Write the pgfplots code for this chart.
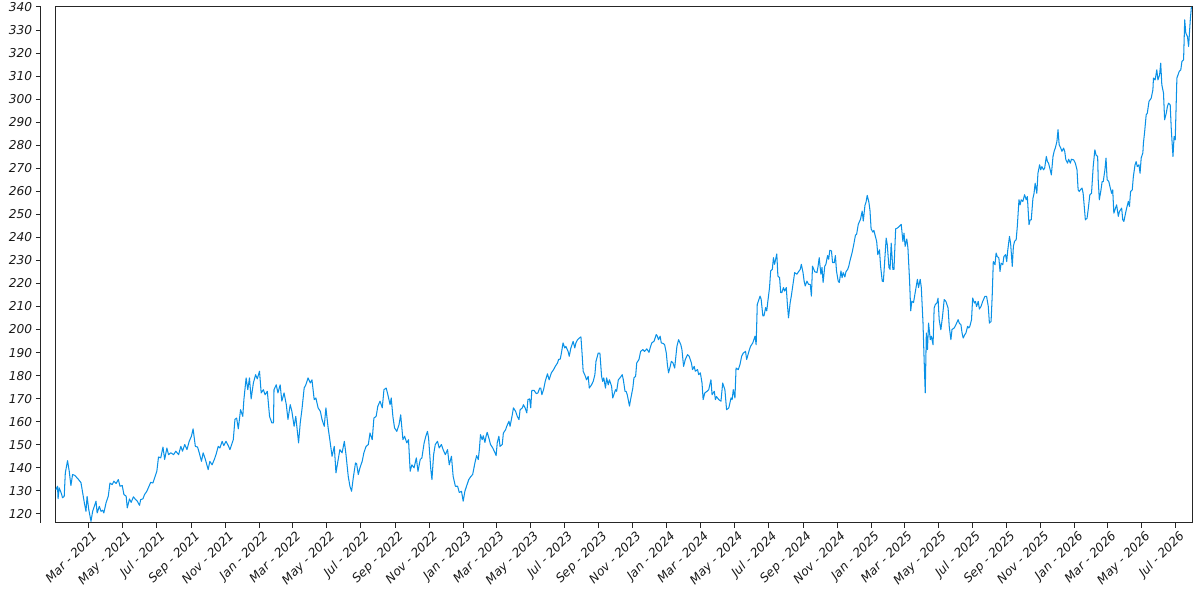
\documentclass[border=0pt]{standalone}
\usepackage{fontspec}
\setmainfont{DejaVu Sans}
\usepackage{pgfplots}
\usepackage{pgfplotstable}
\pgfplotsset{compat=1.18}
\definecolor{linecol}{RGB}{10,145,230}
\pgfplotstableread{
day val
-59 130.5
-56 132
-55 126.6
-53 131.3
-49 128.8
-47 127
-44 127.6
-42 137.8
-38 143.1
-35 138.5
-32 132.3
-29 137.1
-25 136.7
-19 135.1
-14 133.6
-11 129.3
-8 124.9
-5 121.1
-3 127.6
0 121.9
4 116.8
7 121.1
10 123.3
13 125.5
15 120.4
19 123.3
22 121.1
25 121.6
27 120.4
31 124.8
35 127.7
38 133.4
42 132.7
45 134.2
49 133.2
53 134.9
56 132
60 132.3
63 128.4
67 127.7
69 122.6
73 126.5
76 125
80 127.4
84 126.2
87 125.5
91 123.7
93 126.2
97 126.5
100 128.4
104 129.8
108 132
111 133.7
115 133.4
119 136.3
122 138.5
125 144.7
129 144.3
133 149
136 143.6
140 148.6
143 145.7
147 146.5
152 145.7
156 147.2
161 145.7
165 149.3
168 147.2
172 150.1
176 147.9
180 151.5
184 153.7
187 156.9
191 149.3
195 149
198 146.5
202 142.8
205 146.5
209 143.6
214 139.2
217 142.8
221 141.3
225 143.6
228 145.7
232 149.3
235 148.6
239 151.5
242 149.6
246 151.5
250 149.6
253 147.9
259 152.2
262 161
265 161.6
268 156.9
272 165.2
276 162.3
278 169.6
282 179
285 173.9
288 179
291 169.9
295 176.8
299 180.4
302 178.6
306 181.9
309 172.5
313 173.9
316 171.7
320 173.2
324 162.3
328 159.5
331 159.5
332 173.9
336 176
339 172.5
343 176
346 168.9
350 172.5
354 167.4
357 161
361 167.4
364 164.5
368 158
371 162.3
376 150.8
379 159.5
382 165.2
386 174.6
389 176
393 179
397 176.8
400 178.2
404 169.6
407 170.3
411 166
415 164.5
418 161
422 158
425 166
429 157.3
432 152.2
436 145
440 149.3
443 137.8
447 143.6
450 147.9
454 146.5
458 151.5
461 145.7
465 136.3
468 132
471 129.8
474 135.6
478 142.1
480 141.8
483 137.1
486 140
490 142.8
493 146.5
497 149.3
501 150.1
504 155.1
508 152.2
511 161.6
515 162.3
518 166.7
522 168.9
526 166
529 173.9
533 174.6
536 171.7
540 167.4
542 170.3
545 162.3
548 157.3
552 155.8
556 158.7
559 163
563 152.2
566 153.7
570 150.8
573 152.2
576 138.5
579 141.3
583 140
587 144.3
590 138.5
594 143.6
597 144.3
601 150.8
604 153.7
607 155.8
609 152.9
613 139.2
615 134.9
618 145.7
621 150.1
625 151.5
628 148.6
632 150.1
635 147.9
639 145.7
643 147.9
646 141.3
650 145
653 136.3
657 132
661 132
664 129.3
668 129.8
671 125.5
674 129.8
677 132
681 134.9
685 136.3
688 137.1
692 142.1
695 145.3
698 143.6
700 147.9
702 154.4
705 152.2
707 153.9
710 151
712 153.7
714 155.4
717 152.9
720 150.1
724 148.6
728 146.5
730 145.3
732 150.8
735 153.7
737 149.3
741 150.1
743 155.1
747 156.5
749 158
753 160.2
755 158
759 163
761 166
765 164.5
768 162.3
771 160.9
773 165.2
777 166
779 167.4
782 166
785 163.8
787 169.6
790 169.9
792 166
794 173.6
798 173.6
802 172.2
805 172.5
808 174.6
810 174.6
812 171.7
815 173.9
818 177.5
822 180.8
825 178.2
829 181.2
833 182.6
836 184
840 185.5
842 187
845 187.2
847 189.8
850 194.2
853 192
855 192.7
859 190.5
861 188.4
864 192
866 193.4
868 194.9
871 192
873 194.2
876 195.6
879 196.3
882 196.8
884 189.8
886 181.9
890 179.7
892 178.2
895 179.7
897 174.6
901 176
904 177.5
907 180.4
909 186.2
913 189.8
916 189.8
919 179.7
921 177.5
923 179
926 174.6
928 179
931 176
933 178.2
937 175.3
939 170.3
941 171.7
944 173.9
946 173.2
949 178.2
952 179
956 180.4
958 178.2
961 173.2
963 173.2
965 171.7
969 166.8
971 169.6
975 174.6
977 179
980 179.7
982 185.5
986 187
989 190.5
993 191.3
996 190.5
1000 191.6
1004 190.1
1006 192
1009 194.2
1013 194.9
1017 197.8
1019 197.1
1021 195.6
1024 197.1
1026 194.2
1030 193.9
1032 193.4
1035 189.8
1037 184.6
1039 181.2
1042 184
1044 186.2
1047 185.5
1050 183.3
1054 192.7
1057 195.6
1061 193.4
1063 191.3
1066 184
1069 187
1073 189.1
1076 188.4
1080 185.5
1082 182.6
1085 184
1087 181.9
1091 182.6
1093 180.4
1096 181.2
1099 176.8
1101 169.6
1104 172.5
1108 173.2
1111 173.9
1115 178.2
1117 171.7
1121 173.2
1123 169.6
1125 170.9
1129 169.6
1133 168.9
1136 176.8
1140 173.9
1143 165.2
1147 166
1151 170.3
1153 169.6
1155 173.9
1158 170.3
1160 183.3
1164 182.6
1167 184.8
1170 188.4
1173 189.8
1177 190.5
1179 187
1183 190.5
1186 192.7
1190 194.2
1194 197.1
1196 193.4
1198 210.9
1201 213.1
1203 214.5
1205 213.1
1208 205.9
1210 205.9
1213 209.5
1215 208.1
1217 212.3
1220 218.2
1222 225.4
1225 226.1
1227 231.2
1229 228.3
1233 232.8
1235 223.2
1238 222.5
1240 216
1242 216
1245 218.2
1247 216.7
1250 218.2
1252 210.9
1254 205.1
1257 211.7
1259 214.5
1262 219.6
1265 224.7
1269 224
1272 225.1
1275 226.1
1277 228.3
1280 224.7
1282 221
1284 218.9
1287 221
1290 219.6
1293 219.6
1295 214.5
1297 227.5
1301 225.1
1305 224.7
1307 227.5
1309 231.2
1312 224
1314 226.9
1316 220.4
1319 227.5
1321 228.3
1324 232.1
1326 230.5
1328 234.4
1331 234.1
1333 229
1336 229
1338 232.1
1340 225.4
1343 221
1345 220.4
1348 225.4
1350 222.5
1352 224.7
1355 222.8
1357 225.1
1360 226.1
1362 227.5
1364 229.7
1368 233.4
1371 237
1374 241
1376 241.3
1379 245.6
1381 246.8
1383 247.8
1386 251.4
1388 247.1
1391 253.9
1393 255.3
1395 258.2
1398 255.3
1400 251.7
1402 243.7
1405 242.3
1407 243
1410 240.1
1412 238.2
1414 232.5
1417 234.6
1419 227.5
1422 221
1424 220.8
1426 228.3
1429 239.7
1431 236.8
1434 226.9
1436 226.1
1438 237.5
1441 226.1
1443 226.1
1446 243.7
1449 244
1453 244.9
1456 245.6
1459 238.2
1461 241.8
1463 236.1
1466 239.3
1468 235.4
1471 221
1473 208.1
1475 212.3
1478 211.7
1481 216
1485 221.8
1487 218.2
1490 221.8
1492 218.2
1495 203
1497 187
1499 172.5
1501 198.5
1503 191.3
1505 202.8
1508 195.6
1510 197.1
1513 193.4
1515 209.3
1517 210.8
1520 211.5
1522 213.6
1524 204.3
1527 199.9
1530 205.7
1533 213
1536 212.2
1540 209.3
1542 201.4
1545 195.6
1547 200
1551 200.7
1554 202.1
1558 204.3
1560 202.8
1563 202.1
1565 198.5
1567 196.3
1570 197.8
1572 198.5
1575 201.4
1577 200.7
1579 201.4
1582 204.3
1584 213.7
1587 211.5
1589 212.2
1591 210
1594 212.2
1596 208.9
1599 210
1602 212.2
1606 214.4
1609 214.4
1612 210
1614 202.8
1617 203.5
1619 214.4
1621 229.5
1624 228.1
1626 233.2
1628 231.7
1631 231
1633 225.2
1635 228.8
1638 228.1
1640 231.7
1643 232.5
1645 229.5
1647 234.6
1650 240.4
1652 237.5
1655 227.4
1657 236.1
1659 238.2
1662 239
1664 244.7
1667 256.3
1669 254.1
1671 256.3
1674 255.6
1677 258.5
1680 256.3
1682 257.7
1685 245.5
1687 247.6
1689 247.6
1692 256.9
1694 259.1
1696 263.5
1699 259.1
1701 267.8
1704 271.5
1706 269.3
1708 270.7
1711 269.3
1713 270
1716 275.1
1718 272.9
1720 272.2
1723 269.3
1725 267.1
1728 275.1
1730 277.3
1732 278.7
1735 281.6
1737 286.7
1739 280.2
1742 278.7
1744 277.3
1747 278.7
1749 277.3
1751 273.7
1754 272.2
1756 273.9
1759 272.2
1761 273.9
1765 273.6
1768 272.2
1771 269.3
1773 260.6
1775 259.9
1777 260.6
1780 261.4
1782 259.1
1786 247.6
1789 248.3
1791 252
1794 258.5
1797 259.1
1800 270.7
1803 278
1805 275.8
1808 275.1
1809 265
1811 256.3
1814 260.6
1816 264.2
1818 264.2
1821 269.3
1823 274.4
1825 265
1828 264.2
1830 262.1
1833 259.1
1835 260.6
1837 250.5
1840 252.7
1842 254.1
1845 249.1
1847 251.2
1851 252.7
1853 247.6
1855 246.9
1858 250.5
1860 252.7
1863 255.6
1865 253.4
1867 259.9
1870 260.6
1872 266.4
1875 271.5
1877 272.9
1879 270.7
1882 271.5
1884 267.8
1886 274.4
1889 276.6
1890 280.9
1892 285.3
1895 293.2
1897 293.9
1900 299
1902 299.7
1904 300.4
1907 304
1908 309.1
1911 308.3
1914 312.7
1916 308.3
1919 310.5
1921 315.6
1923 306.2
1926 302.6
1928 291
1931 293.9
1933 296.8
1935 298.2
1938 297.5
1940 286.7
1943 275.1
1945 283.8
1947 282.3
1950 309.1
1952 310.5
1954 311.9
1957 312.7
1959 316.3
1962 317.1
1964 334.4
1966 328.6
1969 327.1
1971 322.8
1974 334.4
1976 340
}\pricedata
\begin{document}
\begin{tikzpicture}
\useasboundingbox (0,0) rectangle (864pt,432pt);
% detached left spine with y ticks
\begin{axis}[
  at={(29.3pt,55.7pt)}, anchor=south west,
  scale only axis, width=818.6pt, height=372pt,
  xmin=0, xmax=1, ymin=116.2, ymax=340.4,
  axis x line=none, axis y line=left,
  axis line style={-, black!85, line width=0.6pt},
  ytick={120,130,...,340},
  tick align=outside, major tick length=3.5pt,
  tick style={black!85, line width=0.6pt},
  /pgf/number format/assume math mode=true,
  yticklabel style={font=\fontsize{8.8}{10}\selectfont\itshape, text=black!90, inner sep=0pt, xshift=-2.5pt},
]
\addplot[draw=none] coordinates {(0,200) (1,200)};
\end{axis}
% main axis
\begin{axis}[
  at={(39.8pt,55.7pt)}, anchor=south west,
  scale only axis, width=818.6pt, height=372pt,
  xmin=-60, xmax=1977.5, ymin=116.2, ymax=340.4,
  axis line style={black!85, line width=0.6pt},
  ytick=\empty,
  xtick pos=bottom,
  tick align=outside, major tick length=3.5pt,
  tick style={black!85, line width=0.6pt},
  xtick={0,61,122,184,245,306,365,426,487,549,610,671,730,791,852,914,975,1036,1096,1157,1218,1280,1341,1402,1461,1522,1583,1645,1706,1767,1826,1887,1948},
  xticklabels={Mar - 2021,May - 2021,Jul - 2021,Sep - 2021,Nov - 2021,Jan - 2022,Mar - 2022,May - 2022,Jul - 2022,Sep - 2022,Nov - 2022,Jan - 2023,Mar - 2023,May - 2023,Jul - 2023,Sep - 2023,Nov - 2023,Jan - 2024,Mar - 2024,May - 2024,Jul - 2024,Sep - 2024,Nov - 2024,Jan - 2025,Mar - 2025,May - 2025,Jul - 2025,Sep - 2025,Nov - 2025,Jan - 2026,Mar - 2026,May - 2026,Jul - 2026},
  xticklabel style={font=\fontsize{8.8}{10}\selectfont\itshape, text=black!90, rotate=45, anchor=north east, inner sep=0pt, yshift=-2.5pt},
  clip=true,
]
\addplot[linecol, line width=0.75pt, line join=round] table[x=day, y=val] {\pricedata};
\end{axis}
\end{tikzpicture}
\end{document}
